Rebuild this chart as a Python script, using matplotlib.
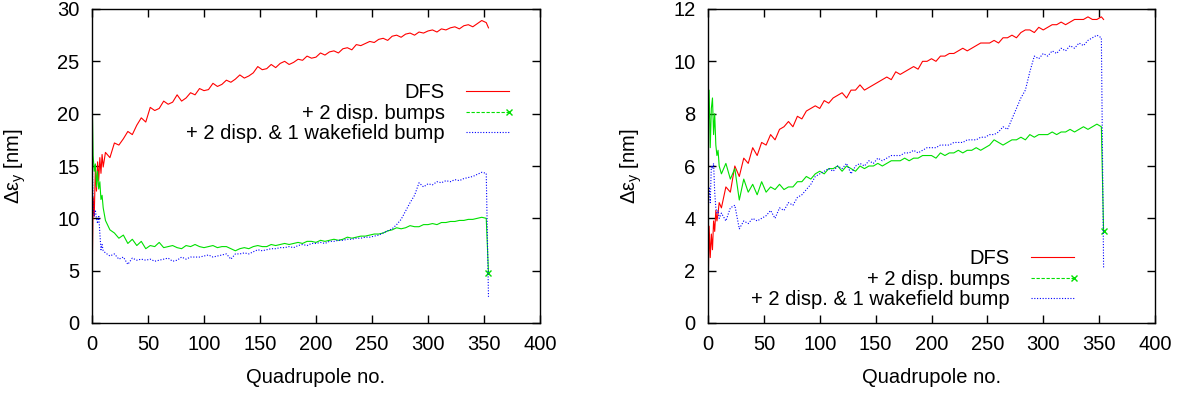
import matplotlib
matplotlib.use("Agg")
import matplotlib.pyplot as plt
from matplotlib.lines import Line2D

plt.rcParams['font.family'] = ['Liberation Sans', 'DejaVu Sans']
plt.rcParams['font.size'] = 14.5

# quadrupole index (sampled)
q = list(range(11)) + list(range(12, 353, 4)) + [354]

# ---- left panel ----
dfs_a = [3.0, 12.0, 10.2, 14.8, 12.6, 15.4, 13.6, 15.8, 14.3, 16.1, 14.9,
         16.3, 15.8, 17.2, 17.0, 17.6, 18.3, 18.0, 18.9, 19.6, 19.2,
         20.6, 20.3, 20.5, 21.2, 20.9, 21.1, 21.8, 21.2, 21.5, 22.0,
         21.8, 22.4, 22.2, 22.3, 22.9, 22.6, 22.8, 23.2, 23.0, 23.3,
         23.7, 23.4, 23.6, 23.9, 24.5, 24.2, 24.3, 24.7, 24.4, 24.8,
         25.0, 24.7, 24.9, 25.2, 25.1, 25.5, 25.3, 25.4, 25.8, 25.6,
         25.9, 26.0, 25.8, 26.2, 26.3, 26.1, 26.6, 26.5, 26.7, 26.9,
         26.8, 27.1, 27.2, 27.0, 27.4, 27.5, 27.3, 27.6, 27.7, 27.5,
         27.8, 27.7, 27.9, 28.0, 27.8, 28.1, 28.0, 28.2, 28.3, 28.1,
         28.4, 28.5, 28.3, 28.6, 28.9, 28.7,
         28.2]
bump2_a = [22.3, 16.0, 14.5, 15.2, 13.0, 14.5, 12.8, 13.5, 11.8, 12.2, 11.0,
           9.8, 8.9, 8.6, 8.1, 8.4, 7.6, 8.0, 7.4, 7.8, 7.1,
           7.4, 7.3, 7.7, 7.2, 7.3, 7.4, 7.2, 7.1, 7.4, 7.3,
           7.5, 7.3, 7.2, 7.3, 7.4, 7.2, 7.3, 7.3, 7.1, 6.9,
           7.1, 7.2, 7.1, 7.3, 7.4, 7.3, 7.3, 7.5, 7.4, 7.5,
           7.6, 7.5, 7.6, 7.7, 7.6, 7.8, 7.8, 7.7, 7.9, 7.8,
           7.9, 8.0, 7.9, 8.0, 8.2, 8.1, 8.2, 8.3, 8.3, 8.4,
           8.5, 8.5, 8.6, 8.8, 8.9, 9.1, 9.0, 9.1, 9.3, 9.2,
           9.2, 9.4, 9.4, 9.5, 9.4, 9.6, 9.6, 9.7, 9.7, 9.8,
           9.8, 9.9, 9.9, 10.0, 10.1, 10.0,
           4.8]
wake_a = [17.2, 11.0, 10.2, 10.8, 10.0, 9.5, 10.3, 8.6, 7.0, 7.5, 6.9,
          6.7, 6.4, 6.6, 6.1, 6.3, 5.6, 6.2, 6.0, 6.1, 6.0,
          6.1, 5.9, 6.0, 6.1, 6.2, 5.9, 6.0, 6.3, 6.1, 6.3,
          6.3, 6.3, 6.4, 6.5, 6.3, 6.4, 6.5, 6.6, 6.1, 6.6,
          6.6, 6.7, 6.6, 6.8, 7.0, 6.9, 7.0, 7.1, 7.1, 7.2,
          7.2, 7.3, 7.2, 7.4, 7.5, 7.4, 7.6, 7.6, 7.7, 7.6,
          7.8, 7.8, 7.9, 7.9, 8.0, 8.0, 8.1, 8.1, 8.2, 8.2,
          8.3, 8.4, 8.6, 8.8, 9.0, 9.4, 9.9, 10.7, 11.5, 12.2,
          13.4, 13.0, 13.3, 13.2, 13.5, 13.4, 13.6, 13.5, 13.7, 13.6,
          13.8, 13.9, 14.0, 14.2, 14.4, 14.3,
          2.5]

# ---- right panel ----
dfs_b = [0.9, 3.7, 2.5, 3.4, 2.8, 3.9, 3.5, 4.3, 3.9, 4.2, 4.6,
         4.4, 5.2, 5.0, 6.0, 5.6, 6.3, 6.1, 6.7, 6.4, 6.9,
         6.8, 7.2, 7.0, 7.4, 7.5, 7.7, 7.5, 7.9, 7.8, 8.1,
         8.2, 8.3, 8.2, 8.5, 8.4, 8.6, 8.7, 8.8, 8.6, 8.9,
         8.9, 9.1, 8.9, 9.0, 9.1, 9.2, 9.3, 9.4, 9.3, 9.6,
         9.5, 9.6, 9.7, 9.8, 9.7, 10.0, 10.0, 10.1, 10.0, 10.2,
         10.2, 10.3, 10.3, 10.4, 10.5, 10.4, 10.5, 10.6, 10.7, 10.7,
         10.7, 10.8, 10.7, 10.9, 10.9, 11.0, 10.9, 11.1, 11.2, 11.2,
         11.1, 11.3, 11.2, 11.3, 11.4, 11.4, 11.5, 11.4, 11.5, 11.6,
         11.6, 11.6, 11.7, 11.6, 11.6, 11.7,
         11.6]
bump2_b = [7.0, 8.9, 6.7, 8.2, 8.6, 7.2, 8.0, 6.8, 6.4, 6.6, 6.0,
           5.7, 6.1, 5.5, 5.9, 4.7, 5.5, 5.0, 5.3, 4.9, 5.4,
           5.0, 5.2, 5.1, 5.3, 5.1, 5.2, 5.2, 5.4, 5.4, 5.6,
           5.5, 5.7, 5.8, 5.7, 5.9, 5.9, 6.0, 5.8, 6.0, 5.9,
           5.8, 6.0, 5.9, 6.0, 6.0, 6.1, 6.0, 6.1, 6.2, 6.2,
           6.2, 6.3, 6.2, 6.3, 6.3, 6.4, 6.4, 6.4, 6.3, 6.5,
           6.4, 6.5, 6.5, 6.6, 6.5, 6.6, 6.6, 6.7, 6.6, 6.7,
           6.8, 7.0, 6.9, 6.8, 6.9, 7.0, 7.0, 7.1, 7.0, 7.2,
           7.1, 7.2, 7.2, 7.2, 7.3, 7.2, 7.3, 7.3, 7.4, 7.3,
           7.4, 7.5, 7.4, 7.5, 7.6, 7.5,
           3.5]
wake_b = [4.5, 5.2, 4.6, 6.0, 5.9, 6.1, 5.0, 4.4, 4.2, 4.3, 4.0,
          4.2, 3.9, 4.4, 4.5, 3.6, 3.9, 3.8, 4.0, 3.9, 4.0,
          4.1, 4.3, 4.0, 4.4, 4.3, 4.6, 4.5, 4.8, 4.9, 5.1,
          5.3, 5.6, 5.7, 5.8, 5.9, 5.8, 6.0, 5.9, 6.1, 5.7,
          6.0, 6.1, 6.0, 6.2, 6.1, 6.3, 6.2, 6.3, 6.4, 6.4,
          6.4, 6.5, 6.5, 6.6, 6.5, 6.6, 6.7, 6.7, 6.7, 6.8,
          6.8, 6.8, 6.9, 6.9, 6.9, 7.0, 7.0, 7.0, 7.1, 7.1,
          7.2, 7.2, 7.3, 7.5, 7.4, 7.8, 8.2, 8.6, 8.9, 9.6,
          10.2, 10.1, 10.3, 10.2, 10.4, 10.3, 10.5, 10.4, 10.6, 10.5,
          10.7, 10.6, 10.8, 10.9, 11.0, 10.9,
          2.1]

labels = ['DFS', '+ 2 disp. bumps', '+ 2 disp. & 1 wakefield bump']
RED, GREEN, BLUE = '#ff0000', '#00e000', '#0000ff'
DOT = (0, (1, 1.5))

fig = plt.figure(figsize=(11.84, 3.97), dpi=100)
W, H = 1184.0, 397.0


def panel(px0, px1, ys, ymax, ystep, leg_right, leg_top):
    ax = fig.add_axes([px0 / W, (H - 323) / H, (px1 - px0) / W, 314 / H])
    ax.plot(q, ys[0], color=RED, lw=0.8)
    ax.plot(q, ys[1], color=GREEN, lw=0.8,
            marker='x', ms=5, mew=1, markevery=[len(q) - 1])
    ax.plot(q, ys[2], color=BLUE, lw=0.8, ls=DOT)
    ax.set_xlim(0, 400)
    ax.set_ylim(0, ymax)
    ax.set_xticks(range(0, 401, 50))
    ax.set_yticks(range(0, ymax + 1, ystep))
    ax.tick_params(direction='in', top=True, right=True, length=6, width=1, pad=9)
    for s in ax.spines.values():
        s.set_linewidth(1.0)
    ax.set_xlabel('Quadrupole no.')
    ax.xaxis.set_label_coords(0.5, -45 / 314)
    ax.set_ylabel('Δε$_\\mathregular{y}$ [nm]')
    ax.yaxis.set_label_coords(-64 / (px1 - px0), 0.5)

    handles = [Line2D([], [], color=RED, lw=0.8),
               Line2D([], [], color=GREEN, lw=0.8, ls=(0, (3, 1.5)), marker='x', ms=5, mew=1),
               Line2D([], [], color=BLUE, lw=0.8, ls=DOT)]
    leg = ax.legend(handles, labels, loc='upper right',
                    bbox_to_anchor=(leg_right / W, 1 - leg_top / H),
                    bbox_transform=fig.transFigure, frameon=False, markerfirst=False,
                    numpoints=2, handlelength=2.75, handletextpad=0.75,
                    labelspacing=0.08, borderpad=0, borderaxespad=0)
    leg.legend_handles[1].set_markevery([1])
    return ax


panel(92, 540, [dfs_a, bump2_a, wake_a], 30, 5, 515, 83)
panel(708, 1155, [dfs_b, bump2_b, wake_b], 12, 2, 1080, 249)

fig.savefig('out.png', dpi=100)
